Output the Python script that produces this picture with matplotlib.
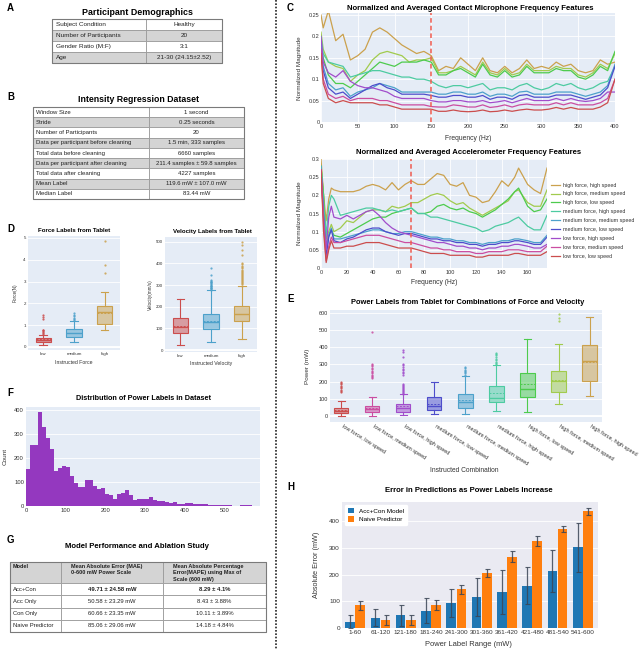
import numpy as np
import matplotlib
matplotlib.use('Agg')
import matplotlib.pyplot as plt
from matplotlib.patches import Rectangle
from matplotlib.colors import to_rgba
from matplotlib.ticker import FuncFormatter
from matplotlib.transforms import ScaledTranslation
import colorsys

plt.rcParams['font.family'] = ['Liberation Sans', 'DejaVu Sans']

# ---------------- DATA ----------------
demo_rows = [("Subject Condition", "Healthy"),
             ("Number of Participants", "20"),
             ("Gender Ratio (M:F)", "3:1"),
             ("Age", "21-30 (24.15±2.52)")]

dataset_rows = [("Window Size", "1 second"),
                ("Stride", "0.25 seconds"),
                ("Number of Participants", "20"),
                ("Data per participant before cleaning", "1.5 min, 333 samples"),
                ("Total data before cleaning", "6660 samples"),
                ("Data per participant after cleaning", "211.4 samples ± 59.8 samples"),
                ("Total data after cleaning", "4227 samples"),
                ("Mean Label", "119.6 mW ± 107.0 mW"),
                ("Median Label", "83.44 mW")]

model_header = ["Model",
                "Mean Absolute Error (MAE)\n0-600 mW Power Scale",
                "Mean Absolute Percentage\nError(MAPE) using Max of\nScale (600 mW)"]
model_rows = [("Acc+Con", "49.71 ± 24.58 mW", "8.29 ± 4.1%"),
              ("Acc Only", "50.58 ± 23.29 mW", "8.43 ± 3.88%"),
              ("Con Only", "60.66 ± 23.35 mW", "10.11 ± 3.89%"),
              ("Naive Predictor", "85.06 ± 29.06 mW", "14.18 ± 4.84%")]

combo_labels = ["high force, high speed", "high force, medium speed", "high force, low speed",
                "medium force, high speed", "medium force, medium speed", "medium force, low speed",
                "low force, high speed", "low force, medium speed", "low force, low speed"]

mic_freq = [0, 3, 10, 20, 30, 40, 50, 60, 70, 80, 90, 100, 110, 120, 130, 140, 150, 160, 170, 180,
            190, 200, 210, 220, 230, 240, 250, 260, 270, 280, 290, 300, 310, 320, 330, 340, 350,
            360, 370, 380, 390, 400]
mic_hh = [0.25, 0.22, 0.26, 0.19, 0.205, 0.145, 0.155, 0.17, 0.21, 0.22, 0.21, 0.195, 0.18, 0.17,
          0.16, 0.165, 0.155, 0.12, 0.13, 0.125, 0.15, 0.135, 0.12, 0.15, 0.12, 0.115, 0.13, 0.115,
          0.125, 0.145, 0.125, 0.13, 0.125, 0.14, 0.13, 0.135, 0.12, 0.115, 0.12, 0.145, 0.135, 0.14]
mic_hm = [0.21, 0.17, 0.14, 0.13, 0.125, 0.095, 0.11, 0.12, 0.145, 0.16, 0.165, 0.16, 0.155, 0.14,
          0.145, 0.145, 0.15, 0.115, 0.115, 0.12, 0.13, 0.12, 0.11, 0.14, 0.115, 0.11, 0.125, 0.11,
          0.115, 0.135, 0.12, 0.12, 0.12, 0.13, 0.125, 0.125, 0.11, 0.105, 0.115, 0.135, 0.125, 0.16]
mic_hl = [0.19, 0.15, 0.11, 0.09, 0.09, 0.08, 0.095, 0.11, 0.125, 0.14, 0.135, 0.13, 0.14, 0.14,
          0.14, 0.145, 0.14, 0.11, 0.11, 0.12, 0.125, 0.115, 0.105, 0.135, 0.11, 0.105, 0.12, 0.105,
          0.11, 0.13, 0.115, 0.115, 0.115, 0.125, 0.12, 0.12, 0.105, 0.1, 0.11, 0.13, 0.12, 0.165]
mic_mh = [0.2, 0.16, 0.14, 0.135, 0.13, 0.105, 0.11, 0.115, 0.12, 0.12, 0.115, 0.11, 0.105, 0.105,
          0.1, 0.1, 0.095, 0.085, 0.08, 0.085, 0.085, 0.08, 0.085, 0.09, 0.075, 0.08, 0.08, 0.075,
          0.085, 0.09, 0.08, 0.075, 0.08, 0.09, 0.085, 0.09, 0.08, 0.075, 0.08, 0.09, 0.095, 0.13]
mic_mm = [0.19, 0.13, 0.09, 0.075, 0.08, 0.06, 0.07, 0.075, 0.08, 0.09, 0.085, 0.08, 0.07, 0.07,
          0.07, 0.07, 0.07, 0.065, 0.065, 0.07, 0.07, 0.065, 0.065, 0.07, 0.06, 0.065, 0.065, 0.06,
          0.07, 0.072, 0.065, 0.065, 0.065, 0.07, 0.07, 0.07, 0.065, 0.06, 0.065, 0.07, 0.085, 0.135]
mic_ml = [0.17, 0.12, 0.08, 0.065, 0.07, 0.055, 0.065, 0.075, 0.085, 0.09, 0.08, 0.075, 0.065, 0.065,
          0.065, 0.065, 0.062, 0.058, 0.058, 0.062, 0.062, 0.058, 0.058, 0.062, 0.053, 0.058, 0.058,
          0.053, 0.062, 0.064, 0.058, 0.058, 0.058, 0.063, 0.063, 0.063, 0.058, 0.053, 0.058, 0.063,
          0.08, 0.13]
mic_lh = [0.2, 0.14, 0.115, 0.105, 0.12, 0.095, 0.085, 0.08, 0.08, 0.075, 0.07, 0.06, 0.055, 0.055,
          0.055, 0.055, 0.05, 0.047, 0.047, 0.05, 0.05, 0.047, 0.047, 0.05, 0.045, 0.047, 0.05, 0.045,
          0.05, 0.055, 0.05, 0.05, 0.05, 0.055, 0.05, 0.055, 0.05, 0.048, 0.05, 0.055, 0.07, 0.07]
mic_lm = [0.17, 0.1, 0.065, 0.055, 0.06, 0.05, 0.055, 0.055, 0.055, 0.05, 0.05, 0.045, 0.04, 0.04,
          0.04, 0.04, 0.036, 0.035, 0.035, 0.04, 0.038, 0.035, 0.035, 0.04, 0.034, 0.036, 0.04, 0.035,
          0.04, 0.042, 0.04, 0.04, 0.04, 0.045, 0.04, 0.045, 0.04, 0.04, 0.04, 0.045, 0.055, 0.1]
mic_ll = [0.16, 0.09, 0.055, 0.045, 0.05, 0.045, 0.045, 0.045, 0.045, 0.04, 0.04, 0.035, 0.03, 0.03,
          0.03, 0.03, 0.03, 0.025, 0.025, 0.028, 0.025, 0.024, 0.025, 0.028, 0.024, 0.025, 0.028,
          0.025, 0.028, 0.03, 0.028, 0.028, 0.03, 0.034, 0.03, 0.034, 0.03, 0.03, 0.03, 0.035, 0.045, 0.1]

acc_freq = [0, 2, 4, 6, 8, 10, 15, 20, 25, 30, 35, 40, 45, 50, 55, 60, 65, 70, 75, 80, 85, 90, 95,
            100, 105, 110, 115, 120, 125, 130, 135, 140, 145, 150, 153, 160, 165, 170, 175]
acc_hh = [0.3, 0.2, 0.13, 0.19, 0.22, 0.215, 0.21, 0.21, 0.21, 0.215, 0.225, 0.23, 0.225, 0.215,
          0.235, 0.215, 0.23, 0.24, 0.23, 0.23, 0.245, 0.26, 0.255, 0.23, 0.225, 0.235, 0.2, 0.195,
          0.18, 0.185, 0.21, 0.24, 0.225, 0.25, 0.275, 0.23, 0.215, 0.205, 0.275]
acc_hm = [0.28, 0.2, 0.08, 0.1, 0.12, 0.1, 0.11, 0.13, 0.125, 0.14, 0.155, 0.16, 0.16, 0.155, 0.17,
          0.165, 0.17, 0.18, 0.18, 0.19, 0.2, 0.205, 0.2, 0.185, 0.175, 0.18, 0.165, 0.155, 0.145,
          0.155, 0.165, 0.175, 0.185, 0.21, 0.215, 0.18, 0.17, 0.17, 0.215]
acc_hl = [0.28, 0.2, 0.06, 0.09, 0.105, 0.09, 0.085, 0.095, 0.105, 0.115, 0.125, 0.135, 0.14, 0.14,
          0.15, 0.155, 0.16, 0.165, 0.15, 0.15, 0.155, 0.17, 0.175, 0.165, 0.16, 0.165, 0.155, 0.15,
          0.14, 0.15, 0.16, 0.175, 0.19, 0.21, 0.22, 0.17, 0.155, 0.16, 0.19]
acc_mh = [0.28, 0.18, 0.09, 0.17, 0.2, 0.19, 0.145, 0.15, 0.155, 0.16, 0.165, 0.165, 0.16, 0.155,
          0.16, 0.155, 0.16, 0.165, 0.15, 0.15, 0.14, 0.14, 0.135, 0.13, 0.125, 0.12, 0.115, 0.11,
          0.1, 0.105, 0.115, 0.12, 0.125, 0.135, 0.14, 0.115, 0.105, 0.105, 0.145]
acc_mm = [0.28, 0.15, 0.04, 0.09, 0.11, 0.08, 0.08, 0.085, 0.09, 0.095, 0.1, 0.105, 0.105, 0.1,
          0.095, 0.095, 0.1, 0.1, 0.095, 0.09, 0.085, 0.085, 0.08, 0.08, 0.075, 0.075, 0.07, 0.07,
          0.065, 0.07, 0.07, 0.075, 0.075, 0.08, 0.08, 0.075, 0.07, 0.07, 0.09]
acc_ml = [0.27, 0.14, 0.03, 0.085, 0.105, 0.075, 0.07, 0.08, 0.085, 0.095, 0.105, 0.11, 0.11, 0.1,
          0.095, 0.09, 0.095, 0.095, 0.09, 0.085, 0.08, 0.08, 0.075, 0.075, 0.07, 0.07, 0.065, 0.065,
          0.06, 0.065, 0.065, 0.07, 0.07, 0.075, 0.075, 0.07, 0.065, 0.065, 0.085]
acc_lh = [0.27, 0.14, 0.05, 0.14, 0.17, 0.14, 0.135, 0.145, 0.135, 0.145, 0.155, 0.16, 0.145, 0.125,
          0.11, 0.1, 0.095, 0.09, 0.085, 0.08, 0.075, 0.07, 0.07, 0.065, 0.06, 0.06, 0.055, 0.055,
          0.05, 0.055, 0.055, 0.06, 0.06, 0.065, 0.065, 0.06, 0.055, 0.055, 0.065]
acc_lm = [0.27, 0.12, 0.02, 0.06, 0.085, 0.07, 0.07, 0.075, 0.08, 0.085, 0.09, 0.09, 0.09, 0.085,
          0.08, 0.075, 0.07, 0.07, 0.065, 0.06, 0.055, 0.055, 0.05, 0.05, 0.045, 0.045, 0.045, 0.04,
          0.04, 0.045, 0.045, 0.045, 0.05, 0.05, 0.05, 0.045, 0.045, 0.045, 0.06]
acc_ll = [0.27, 0.1, 0.015, 0.05, 0.075, 0.055, 0.055, 0.06, 0.06, 0.065, 0.07, 0.07, 0.07, 0.065,
          0.06, 0.055, 0.055, 0.055, 0.05, 0.045, 0.04, 0.04, 0.04, 0.035, 0.035, 0.035, 0.035, 0.03,
          0.03, 0.035, 0.035, 0.035, 0.035, 0.04, 0.04, 0.035, 0.035, 0.035, 0.045]

# D: force / velocity box statistics
level_labels = ["low", "medium", "high"]
force_q1 = [0.24, 0.47, 1.05]
force_med = [0.33, 0.62, 1.62]
force_q3 = [0.43, 0.82, 1.89]
force_lo = [0.08, 0.23, 0.77]
force_hi = [0.57, 1.17, 2.52]
force_mean = [0.36, 0.66, 1.58]
force_fliers = [[0.6, 0.64, 0.68, 0.72, 0.76, 0.8, 1.3, 1.38, 1.45],
                [1.22, 1.28, 1.35, 1.42, 1.48, 1.55],
                [3.38, 3.77, 4.85]]
vel_q1 = [77, 95, 134]
vel_med = [108, 131, 165]
vel_q3 = [146, 168, 203]
vel_lo = [23, 38, 49]
vel_hi = [235, 275, 295]
vel_mean = [112, 136, 168]
vel_fliers = [[],
              [278, 282, 285, 288, 292, 295, 298, 302, 305, 308, 312, 315, 318, 322, 345, 380],
              [298, 304, 309, 313, 318, 322, 327, 331, 336, 341, 345, 350, 355, 360, 366, 371,
               377, 383, 390, 397, 402, 440, 460, 485, 500]]

# E: power box statistics
power_labels = ["low force, low speed", "low force, medium speed", "low force, high speed",
                "medium force, low speed", "medium force, medium speed", "medium force, high speed",
                "high force, low speed", "high force, medium speed", "high force, high speed"]
power_q1 = [15, 21, 25, 37, 45, 83, 110, 141, 205]
power_med = [31, 41, 48, 60, 79, 103, 155, 205, 319]
power_q3 = [48, 60, 70, 110, 126, 172, 250, 263, 412]
power_lo = [2, 2, 4, 10, 10, 31, 25, 68, 118]
power_hi = [87, 112, 126, 195, 234, 296, 447, 418, 577]
power_mean = [37, 48, 56, 72, 92, 133, 183, 212, 316]
power_fliers = [[138, 145, 152, 160, 168, 175, 183, 190, 198],
                [218, 225, 232, 240, 248, 256, 264, 272, 280, 288, 296, 302, 490],
                [128, 133, 139, 145, 150, 156, 162, 168, 175, 182, 188, 240, 248, 257, 265, 275,
                 285, 295, 305, 345, 370, 385],
                [],
                [240, 248, 255, 262, 270, 278, 286],
                [300, 308, 316, 324, 333, 342, 352, 362, 368],
                [],
                [550, 570, 590],
                []]

# F: histogram of power labels (10 mW bins)
hist_bin_width = 10
hist_counts = [156, 255, 252, 390, 327, 282, 238, 146, 158, 168,
               163, 124, 97, 79, 79, 107, 107, 82, 69, 76,
               51, 45, 31, 51, 55, 66, 45, 27, 30, 28,
               31, 38, 25, 22, 20, 18, 14, 15, 10, 8,
               14, 14, 10, 8, 9, 8, 6, 5, 4, 5,
               4, 3, 1, 1, 4, 4, 3, 1, 1]

# H: prediction error by power range
h_ranges = ["1-60", "61-120", "121-180", "181-240", "241-300", "301-360", "361-420",
            "421-480", "481-540", "541-600"]
acc_con_err = [24, 38, 48, 65, 94, 117, 135, 159, 214, 303]
acc_con_sd = [25, 32, 39, 48, 53, 71, 81, 70, 78, 93]
naive_err = [85, 31, 30, 87, 145, 207, 267, 327, 372, 438]
naive_sd = [17, 19, 19, 18, 18, 16, 21, 18, 12, 12]

# ---------------- STYLE ----------------
combo_hue = {"high force, high speed": 40, "high force, medium speed": 80,
             "high force, low speed": 120, "medium force, high speed": 160,
             "medium force, medium speed": 200, "medium force, low speed": 240,
             "low force, high speed": 280, "low force, medium speed": 320,
             "low force, low speed": 0}
combo_color = {k: colorsys.hls_to_rgb(h / 360.0, 0.55, 0.55) for k, h in combo_hue.items()}
level_color = [combo_color["low force, low speed"], combo_color["medium force, medium speed"],
               combo_color["high force, high speed"]]

PLOTLY_BG = '#E5ECF6'
SEA_BG = '#EAEAF2'
TXT = '#333333'

W, H = 640, 650
fig = plt.figure(figsize=(W / 100, H / 100), dpi=100)


def axpx(x0, y0, x1, y1):
    return fig.add_axes([x0 / W, 1 - y1 / H, (x1 - x0) / W, (y1 - y0) / H])


ov = fig.add_axes([0, 0, 1, 1])
ov.set_xlim(0, W)
ov.set_ylim(H, 0)
ov.axis('off')


def txt(x, y, s, fs, bold=False, ha='center', va='center', rot=0, color='black', **kw):
    ov.text(x, y, s, fontsize=fs, fontweight='bold' if bold else 'normal', ha=ha, va=va,
            rotation=rot, color=color, **kw)


def style(ax, bg, fs, xgrid=False, zeroline=False):
    ax.set_facecolor(bg)
    for s in ax.spines.values():
        s.set_visible(False)
    ax.grid(True, axis='y', color='white', lw=0.6)
    if xgrid:
        ax.grid(True, axis='x', color='white', lw=0.6)
    ax.set_axisbelow(True)
    ax.tick_params(length=0, labelsize=fs, colors=TXT, pad=1.5)
    if zeroline:
        ax.axhline(0, color='white', lw=1.3, zorder=0.6)


gfmt = FuncFormatter(lambda v, p: f'{v:g}')

# divider
ov.plot([276, 276], [0, H], ls=(0, (1, 1)), color='#222222', lw=1.2)

# panel letters
for letter, (x, y) in {"A": (7, 8), "B": (7, 97.5), "D": (7, 229), "F": (7, 393), "G": (7, 540),
                       "C": (287, 8), "E": (287, 299), "H": (287, 487)}.items():
    txt(x, y, letter, 7, bold=True, ha='left')


# ---------------- tables ----------------
def simple_table(rows, x_edges, y_edges, fs, pad):
    for r, row in enumerate(rows):
        fill = 'white' if r % 2 == 0 else '#d4d4d4'
        for c, s in enumerate(row):
            x0, x1 = x_edges[c], x_edges[c + 1]
            y0, y1 = y_edges[r], y_edges[r + 1]
            ov.add_patch(Rectangle((x0, y0), x1 - x0, y1 - y0, facecolor=fill,
                                   edgecolor='#9a9a9a', lw=0.6))
            if c == 0:
                txt(x0 + pad, (y0 + y1) / 2, s, fs, ha='left', color='#222222')
            else:
                txt((x0 + x1) / 2, (y0 + y1) / 2, s, fs, color='#222222')
    ov.add_patch(Rectangle((x_edges[0], y_edges[0]), x_edges[-1] - x_edges[0],
                           y_edges[-1] - y_edges[0], facecolor='none', edgecolor='#7a7a7a', lw=0.8))


txt(137, 12.5, "Participant Demographics", 6.4, bold=True)
simple_table(demo_rows, [52, 146, 222], [19, 29.9, 40.8, 51.7, 62.7], 4.6, 4)

txt(138, 100, "Intensity Regression Dataset", 6.3, bold=True)
simple_table(dataset_rows, [33, 149, 244], np.linspace(107, 199, len(dataset_rows) + 1), 4.3, 3)

txt(137, 546, "Model Performance and Ablation Study", 5.6, bold=True)
g_x = [10, 61, 163, 266]
g_y = [562, 583, 595.3, 607.6, 619.9, 632]
for c in range(3):
    ov.add_patch(Rectangle((g_x[c], g_y[0]), g_x[c + 1] - g_x[c], g_y[1] - g_y[0],
                           facecolor='#d4d4d4', edgecolor='#9a9a9a', lw=0.6))
    txt(g_x[c] + (3 if c == 0 else 10), g_y[0] + 2.2, model_header[c], 4.0, bold=True,
        ha='left', va='top', linespacing=1.3, color='#222222')
for r, row in enumerate(model_rows):
    y0, y1 = g_y[r + 1], g_y[r + 2]
    for c, s in enumerate(row):
        ov.add_patch(Rectangle((g_x[c], y0), g_x[c + 1] - g_x[c], y1 - y0,
                               facecolor='white', edgecolor='#9a9a9a', lw=0.6))
        if c == 0:
            txt(g_x[c] + 3, (y0 + y1) / 2, s, 4.2, ha='left', color='#222222')
        else:
            txt((g_x[c] + g_x[c + 1]) / 2, (y0 + y1) / 2, s, 4.2, bold=(r == 0), color='#222222')
ov.add_patch(Rectangle((g_x[0], g_y[0]), g_x[-1] - g_x[0], g_y[-1] - g_y[0],
                       facecolor='none', edgecolor='#7a7a7a', lw=0.8))


# ---------------- box helper ----------------
def boxes(ax, q1, med, q3, lo, hi, mean, fliers, colors, width):
    for i in range(len(q1)):
        c = colors[i]
        st = dict(q1=q1[i], med=med[i], q3=q3[i], whislo=lo[i], whishi=hi[i], mean=mean[i],
                  fliers=fliers[i])
        ax.bxp([st], positions=[i], widths=width, patch_artist=True, showmeans=True,
               meanline=True, manage_ticks=False, capwidths=width * 0.5,
               boxprops=dict(facecolor=to_rgba(c, 0.5), edgecolor=c, lw=0.8),
               medianprops=dict(color=c, lw=1.0),
               meanprops=dict(color=c, ls=(0, (2, 1.5)), lw=0.7),
               whiskerprops=dict(color=c, lw=0.8), capprops=dict(color=c, lw=0.8),
               flierprops=dict(marker='o', ms=1.6, mfc=c, mec='none', alpha=0.85))


# ---------------- D ----------------
axf = axpx(28, 236, 120, 350)
style(axf, PLOTLY_BG, 3.2, zeroline=True)
boxes(axf, force_q1, force_med, force_q3, force_lo, force_hi, force_mean, force_fliers,
      level_color, 0.5)
axf.set_xlim(-0.5, 2.5)
axf.set_ylim(-0.14, 5.09)
axf.set_yticks([0, 1, 2, 3, 4, 5])
axf.set_xticks(range(3))
axf.set_xticklabels(level_labels)
txt(74, 231, "Force Labels from Tablet", 4.4, bold=True)
txt(74, 363, "Instructed Force", 3.7, color=TXT)
txt(15, 293, "Force(N)", 3.3, rot=90, color=TXT)

axv = axpx(165, 237, 257, 352)
style(axv, PLOTLY_BG, 3.2, zeroline=True)
boxes(axv, vel_q1, vel_med, vel_q3, vel_lo, vel_hi, vel_mean, vel_fliers, level_color, 0.5)
axv.set_xlim(-0.5, 2.5)
axv.set_ylim(-9, 522)
axv.set_yticks([0, 100, 200, 300, 400, 500])
axv.set_xticks(range(3))
axv.set_xticklabels(level_labels)
txt(212, 231, "Velocity Labels from Tablet", 4.4, bold=True)
txt(211, 363, "Instructed Velocity", 3.7, color=TXT)
txt(150, 295, "Velocity(mm/s)", 3.3, rot=90, color=TXT)

# ---------------- F ----------------
axh = axpx(26, 407, 260, 506)
style(axh, PLOTLY_BG, 4.2)
bin_left = np.arange(len(hist_counts)) * hist_bin_width
axh.bar(bin_left, hist_counts, width=hist_bin_width, align='edge', color='#9438bf', lw=0)
axh.set_xlim(0, 590)
axh.set_ylim(0, 412)
axh.set_xticks([0, 100, 200, 300, 400, 500])
axh.set_yticks([0, 100, 200, 300, 400])
txt(143, 398.5, "Distribution of Power Labels in Dataset", 5.2, bold=True)
txt(5, 456, "Count", 4.6, rot=90, color=TXT)

# ---------------- C ----------------
mic_series = [mic_hh, mic_hm, mic_hl, mic_mh, mic_mm, mic_ml, mic_lh, mic_lm, mic_ll]
acc_series = [acc_hh, acc_hm, acc_hl, acc_mh, acc_mm, acc_ml, acc_lh, acc_lm, acc_ll]

ax1 = axpx(321, 13, 615, 122)
style(ax1, PLOTLY_BG, 4, xgrid=True)
for lab, vals in zip(combo_labels, mic_series):
    ax1.plot(mic_freq, vals, color=combo_color[lab], lw=0.9)
ax1.axvline(150, color='#ef5b4f', ls=(0, (3, 2)), lw=1.1)
ax1.set_xlim(0, 400)
ax1.set_ylim(0, 0.2547)
ax1.set_xticks([0, 50, 100, 150, 200, 250, 300, 350, 400])
ax1.set_yticks([0, 0.05, 0.1, 0.15, 0.2, 0.25])
ax1.yaxis.set_major_formatter(gfmt)
ax1.tick_params(axis='y', pad=1)
txt(470, 8.3, "Normalized and Averaged Contact Microphone Frequency Features", 5.6, bold=True)
txt(468, 138, "Frequency (Hz)", 4.9, color=TXT)
txt(300, 68, "Normalized Magnitude", 4.6, rot=90, color=TXT)

ax2 = axpx(321, 159, 547, 268)
style(ax2, PLOTLY_BG, 4, xgrid=True)
for lab, vals in zip(combo_labels, acc_series):
    ax2.plot(acc_freq, vals, color=combo_color[lab], lw=0.9, label=lab)
ax2.axvline(70, color='#ef5b4f', ls=(0, (3, 2)), lw=1.1)
ax2.set_xlim(0, 175)
ax2.set_ylim(0, 0.3)
ax2.set_xticks([0, 20, 40, 60, 80, 100, 120, 140, 160])
ax2.set_yticks([0, 0.05, 0.1, 0.15, 0.2, 0.25, 0.3])
ax2.yaxis.set_major_formatter(gfmt)
ax2.tick_params(axis='y', pad=1)
txt(469, 152, "Normalized and Averaged Accelerometer Frequency Features", 5.6, bold=True)
txt(434, 282.5, "Frequency (Hz)", 4.9, color=TXT)
txt(300, 213, "Normalized Magnitude", 4.6, rot=90, color=TXT)
ax2.legend(loc='upper left', bbox_to_anchor=(551 / W, 1 - 182.5 / H), bbox_transform=fig.transFigure,
           frameon=False, fontsize=3.9, handlelength=1.7, handletextpad=0.5, labelspacing=0.72,
           borderaxespad=0, borderpad=0, labelcolor=TXT)

# ---------------- E ----------------
axe = axpx(330, 310, 602, 422)
style(axe, PLOTLY_BG, 4, zeroline=True)
boxes(axe, power_q1, power_med, power_q3, power_lo, power_hi, power_mean, power_fliers,
      [combo_color[l] for l in power_labels], 0.46)
axe.set_xlim(-0.36, 8.4)
axe.set_ylim(-35, 616)
axe.set_yticks([0, 100, 200, 300, 400, 500, 600])
axe.set_xticks(range(len(power_labels)))
axe.set_xticklabels(power_labels, rotation=-32, ha='left', va='top', rotation_mode='anchor')
for lbl in axe.get_xticklabels():
    lbl.set_transform(lbl.get_transform() + ScaledTranslation(0.02, 0, fig.dpi_scale_trans))
txt(468, 302, "Power Labels from Tablet for Combinations of Force and Velocity", 5.4, bold=True)
txt(464, 471, "Instructed Combination", 4.8, color=TXT)
txt(307, 366, "Power (mW)", 4.6, rot=90, color=TXT)

# ---------------- H ----------------
axb = axpx(342, 502, 598, 628)
style(axb, SEA_BG, 4.6)
xpos = np.arange(len(h_ranges))
ek = dict(ecolor='#3b4656', elinewidth=0.9, capsize=1.8, capthick=0.8, alpha=0.85)
axb.bar(xpos - 0.2, acc_con_err, 0.38, yerr=acc_con_sd, color='#1f77b4', label='Acc+Con Model',
        error_kw=ek)
axb.bar(xpos + 0.2, naive_err, 0.38, yerr=naive_sd, color='#ff7f0e', label='Naive Predictor',
        error_kw=ek)
axb.set_xlim(-0.52, 9.6)
axb.set_ylim(0, 473)
axb.set_yticks([0, 100, 200, 300, 400])
axb.set_xticks(xpos)
axb.set_xticklabels(h_ranges)
axb.tick_params(axis='x', pad=1.5)
axb.legend(loc='upper left', fontsize=4.6, frameon=True, facecolor='white', edgecolor='white',
           framealpha=1, handlelength=1.0, handleheight=0.9, borderaxespad=0.5, labelspacing=0.45,
           fancybox=True)
txt(469, 491, "Error in Predictions as Power Labels Increase", 5.6, bold=True)
txt(468, 644, "Power Label Range (mW)", 5.4, color=TXT)
txt(316, 565, "Absolute Error (mW)", 5.2, rot=90, color=TXT)

fig.savefig('out.png', dpi=100)
